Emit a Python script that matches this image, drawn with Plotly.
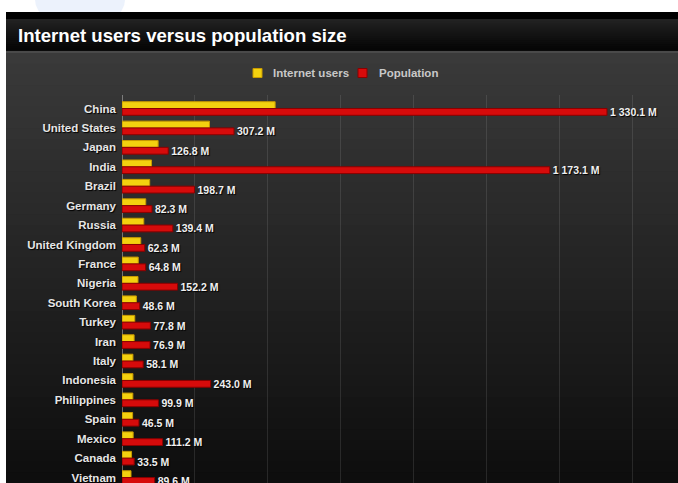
import plotly.graph_objects as go

countries = ["China", "United States", "Japan", "India", "Brazil", "Germany", "Russia",
             "United Kingdom", "France", "Nigeria", "South Korea", "Turkey", "Iran", "Italy",
             "Indonesia", "Philippines", "Spain", "Mexico", "Canada", "Vietnam"]
internet_users = [420.0, 239.9, 99.1, 81.0, 75.9, 65.1, 59.7, 51.4, 44.6, 43.9,
                  39.4, 35.0, 33.2, 30.0, 30.0, 29.7, 29.1, 30.6, 26.2, 24.7]
population = [1330.1, 307.2, 126.8, 1173.1, 198.7, 82.3, 139.4, 62.3, 64.8, 152.2,
              48.6, 77.8, 76.9, 58.1, 243.0, 99.9, 46.5, 111.2, 33.5, 89.6]
series_names = ["Internet users", "Population"]
series_colors = ["#f3d10f", "#d60b0b"]
series_edges = ["#c89a00", "#8a0000"]

W, H = 678, 483
L, R, T, B = 122, 20, 95, 0
pw, ph = W - L - R, H - T - B
FONT = "Liberation Sans, Arial, sans-serif"

def px(x):
    return (x - L) / pw

def py(y):
    return (H - B - y) / ph

def fmt(v):
    return f"{v:,.1f}".replace(",", " ") + " M"

def rect(x0, x1, y0, y1, color):
    return dict(type="rect", xref="paper", yref="paper", layer="below",
                x0=px(x0), x1=px(x1), y0=py(y1), y1=py(y0),
                fillcolor=color, line=dict(width=0))

shapes = []
# faint light-blue blob in the white margin
shapes.append(dict(type="circle", xref="paper", yref="paper", layer="below",
                   x0=px(35), x1=px(125), y0=py(28), y1=py(-28),
                   fillcolor="rgba(220,232,250,0.55)", line=dict(width=0)))
# black top band
shapes.append(rect(6, W, 12, 19.5, "#000000"))
# title bar gradient
n = 16
for i in range(n):
    y0 = 19 + (50 - 19) * i / n
    y1 = 19 + (50 - 19) * (i + 1) / n + 0.8
    c = int(34 - (34 - 6) * i / (n - 1))
    shapes.append(rect(6, W, y0, y1, f"rgb({c},{c},{c})"))
shapes.append(rect(6, W, 50, 51.2, "#0a0a0a"))
shapes.append(rect(6, W, 51, 53.2, "#4a4a4a"))
# body gradient
n = 40
for i in range(n):
    y0 = 53 + (H - 53) * i / n
    y1 = 53 + (H - 53) * (i + 1) / n + 0.8
    c = int(58 - (58 - 14) * i / (n - 1))
    shapes.append(rect(6, W, y0, y1, f"rgb({c},{c},{c})"))

# manual legend (squares + labels)
legend_sq = [(253, 262), (358, 367)]
legend_tx = [271, 377]
annotations = []
for (a, b), tx, name, col, edge in zip(legend_sq, legend_tx, series_names, series_colors, series_edges):
    shapes.append(dict(type="rect", xref="paper", yref="paper",
                       x0=px(a), x1=px(b), y0=py(77.5), y1=py(68.5),
                       fillcolor=col, line=dict(color=edge, width=1)))
    annotations.append(dict(text=name, xref="paper", yref="paper", x=px(tx), y=py(73),
                            xanchor="left", yanchor="middle", showarrow=False,
                            font=dict(family=FONT, size=11.5, color="#c8c8c8", weight="bold")))

shadow = "1px 1px 1px #000"

fig = go.Figure()
fig.add_trace(go.Bar(
    name=series_names[0], y=countries, x=internet_users, orientation="h",
    marker=dict(color=series_colors[0], line=dict(color=series_edges[0], width=1)),
))
fig.add_trace(go.Bar(
    name=series_names[1], y=countries, x=population, orientation="h",
    marker=dict(color=series_colors[1], line=dict(color=series_edges[1], width=1)),
    text=[fmt(v) for v in population], textposition="outside",
    textfont=dict(family=FONT, size=10.5, color="#f0f0f0", weight="bold", shadow=shadow),
    cliponaxis=False,
))

fig.update_layout(
    width=W, height=H,
    margin=dict(l=L, r=R, t=T, b=B, pad=0),
    paper_bgcolor="#ffffff", plot_bgcolor="rgba(0,0,0,0)",
    barmode="group", bargap=0.3, bargroupgap=0,
    showlegend=False,
    hovermode=False,
    title=dict(text="Internet users versus population size",
               x=18 / W, xanchor="left", y=1 - 35 / H, yanchor="middle",
               font=dict(family=FONT, size=18.6, color="#ffffff", weight="bold")),
    xaxis=dict(range=[0, 1470], dtick=200, tick0=0, showticklabels=False,
               showgrid=True, gridcolor="rgba(200,200,200,0.14)", gridwidth=1,
               zeroline=True, zerolinecolor="rgba(210,210,210,0.45)", zerolinewidth=1,
               showline=False, ticks=""),
    yaxis=dict(type="category", categoryorder="array", categoryarray=countries,
               range=[19.28, -0.695], showgrid=False, zeroline=False, ticks="",
               ticklabelstandoff=5,
               tickfont=dict(family=FONT, size=11.5, color="#e6e6e6", weight="bold", shadow=shadow)),
    shapes=shapes,
    annotations=annotations,
)
fig.update_traces(constraintext="none", selector=dict(type="bar"))

fig.write_html("out.html", config={"displayModeBar": False},
               post_script="document.body.style.margin='0px';")
